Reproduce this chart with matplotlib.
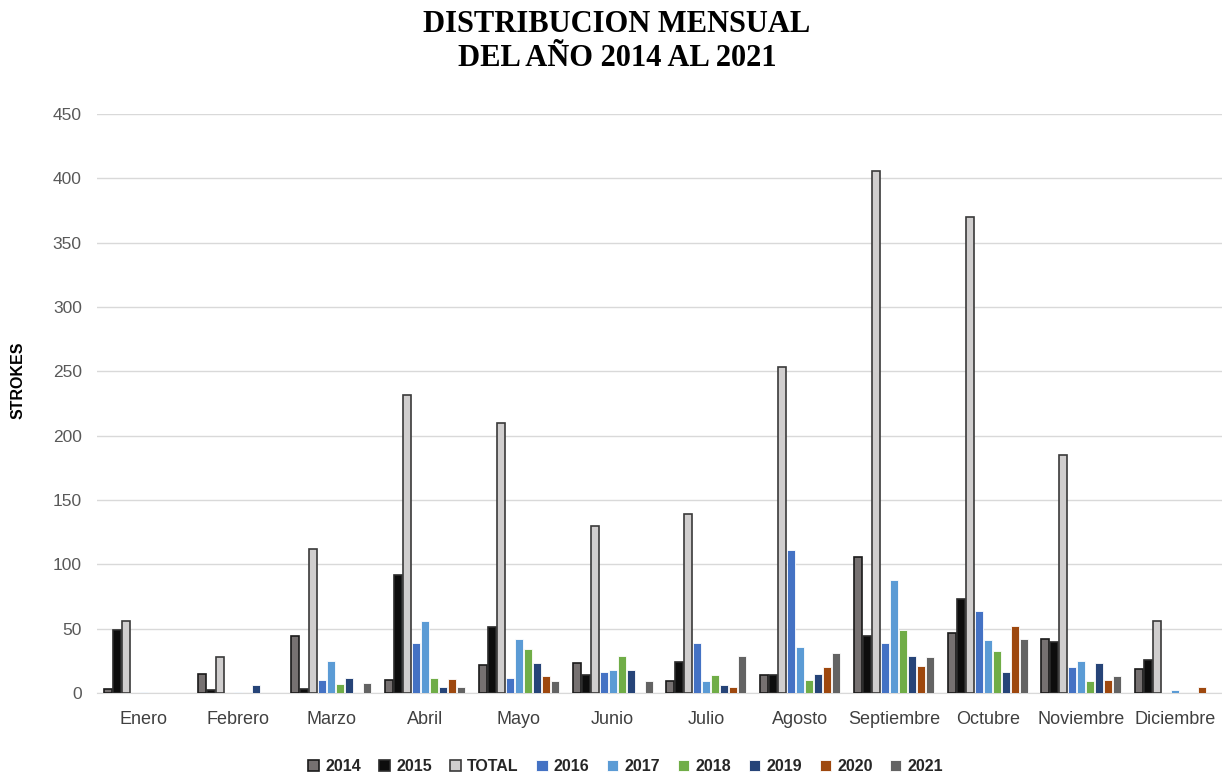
import numpy as np
import matplotlib.pyplot as plt

meses = ['Enero', 'Febrero', 'Marzo', 'Abril', 'Mayo', 'Junio', 'Julio',
         'Agosto', 'Septiembre', 'Octubre', 'Noviembre', 'Diciembre']
series = ['2014', '2015', 'TOTAL', '2016', '2017', '2018', '2019', '2020', '2021']

v2014 = [3, 15, 44, 10, 22, 23, 9, 14, 106, 47, 42, 19]
v2015 = [49, 2, 3, 92, 51, 14, 24, 14, 44, 73, 40, 26]
vtotal = [56, 28, 112, 232, 210, 130, 139, 253, 406, 370, 185, 56]
v2016 = [0, 0, 10, 39, 12, 16, 39, 111, 39, 64, 20, 0]
v2017 = [1, 1, 25, 56, 42, 18, 9, 36, 88, 41, 25, 2]
v2018 = [0, 0, 7, 12, 34, 29, 14, 10, 49, 33, 9, 0]
v2019 = [0, 6, 12, 5, 23, 18, 6, 15, 29, 16, 23, 0]
v2020 = [0, 0, 0, 11, 13, 0, 5, 20, 21, 52, 10, 5]
v2021 = [0, 0, 8, 5, 9, 9, 29, 31, 28, 42, 13, 0]

valores = [v2014, v2015, vtotal, v2016, v2017, v2018, v2019, v2020, v2021]
colores = ['#767171', '#0d0d0d', '#d0cece', '#4472c4', '#5b9bd5',
           '#70ad47', '#264478', '#9e480e', '#636363']
bordes = ['#1a1a1a', '#2b2b2b', '#3a3a3a', 'white', 'white',
          'white', 'white', 'white', 'white']

fig = plt.figure(figsize=(12.22, 7.76), dpi=100)
ax = fig.add_axes([0.0794, 0.107, 0.9206, 0.746])

x = np.arange(len(meses))
paso = 0.096
for k, (nombre, val) in enumerate(zip(series, valores)):
    ax.bar(x + (k - 4) * paso, val, width=0.085, color=colores[k],
           edgecolor=bordes[k], linewidth=1.2 if k < 3 else 0.6,
           label=nombre, zorder=3)

ax.set_xlim(-0.5, 11.5)
ax.set_ylim(0, 450)
ax.set_yticks(np.arange(0, 451, 50))
ax.yaxis.grid(True, color='#d9d9d9', linewidth=1, zorder=0)
ax.set_xticks(x)
ax.set_xticklabels(meses, fontsize=13, color='#404040', family='Liberation Sans')
for t in ax.get_yticklabels():
    t.set_family('Liberation Sans')
ax.tick_params(axis='y', labelsize=12.5, labelcolor='#595959', length=0, pad=11)
ax.tick_params(axis='x', length=0, pad=13)
for s in ['top', 'right', 'left']:
    ax.spines[s].set_visible(False)
ax.spines['bottom'].set_color('#d9d9d9')

ax.set_ylabel('STROKES', fontsize=11.5, fontweight='bold', family='Liberation Sans')
ax.yaxis.set_label_coords(-0.064, 0.54)

# titulo en dos lineas
fig.text(0.505, 1 - 25 / 776, 'DISTRIBUCION MENSUAL', ha='center', va='center',
         fontsize=22, fontweight='bold', family='Liberation Serif')
fig.text(0.505, 1 - 58 / 776, 'DEL AÑO 2014 AL 2021', ha='center', va='center',
         fontsize=22, fontweight='bold', family='Liberation Serif')

leg = fig.legend(loc='center', bbox_to_anchor=(0.512, 0.012), ncol=9, frameon=False,
                 prop={'weight': 'bold', 'size': 11.5, 'family': 'Liberation Sans'},
                 handlelength=0.7, handleheight=0.7, handletextpad=0.4,
                 columnspacing=1.1)
for t in leg.get_texts():
    t.set_color('#262626')

fig.savefig('out.png', dpi=100)
